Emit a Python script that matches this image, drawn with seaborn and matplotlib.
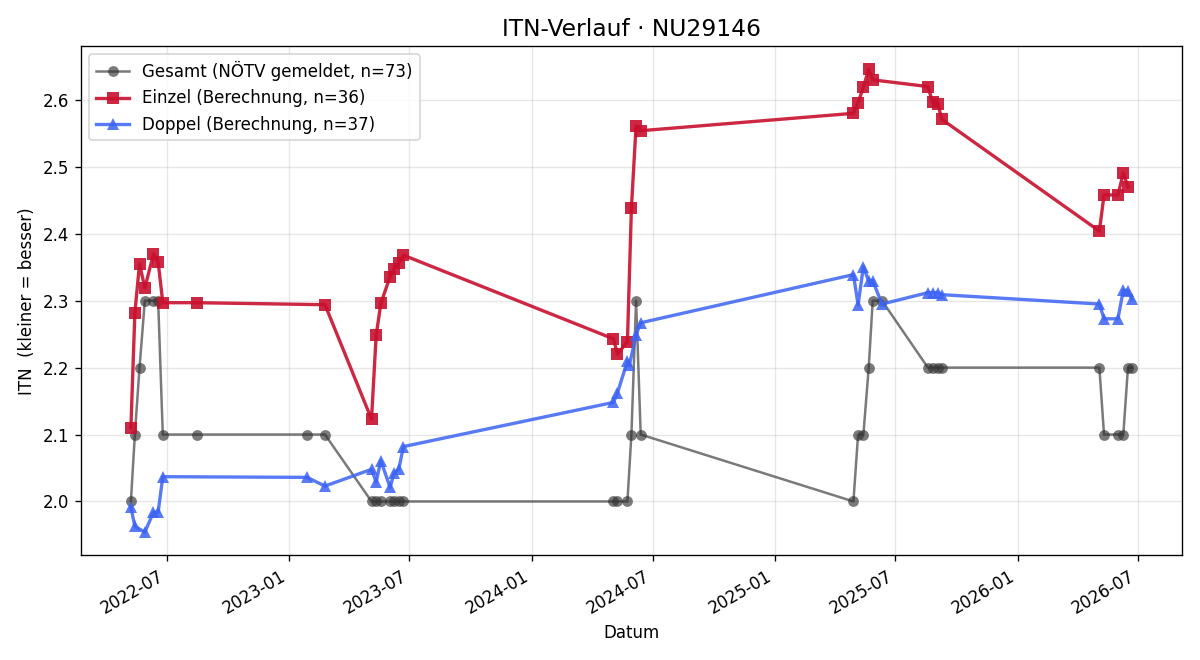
import numpy as np
import pandas as pd
import matplotlib
matplotlib.use('Agg')
import matplotlib.pyplot as plt
import matplotlib.dates as mdates
import seaborn as sns

# Gesamt (NÖTV gemeldet)
gesamt_datum = ['2022-05-08', '2022-05-14', '2022-05-21', '2022-05-29', '2022-06-11', '2022-06-18',
                '2022-06-25', '2022-08-15', '2023-01-28', '2023-02-24', '2023-05-05', '2023-05-12',
                '2023-05-19', '2023-06-02', '2023-06-08', '2023-06-15', '2023-06-22', '2024-05-03',
                '2024-05-09', '2024-05-24', '2024-05-30', '2024-06-06', '2024-06-13', '2025-04-29',
                '2025-05-06', '2025-05-14', '2025-05-22', '2025-05-28', '2025-06-11', '2025-08-19',
                '2025-08-26', '2025-09-03', '2025-09-09', '2026-05-04', '2026-05-11', '2026-06-01',
                '2026-06-09', '2026-06-16', '2026-06-22']
gesamt_itn = [2.0, 2.1, 2.2, 2.3, 2.3, 2.3,
              2.1, 2.1, 2.1, 2.1, 2.0, 2.0,
              2.0, 2.0, 2.0, 2.0, 2.0, 2.0,
              2.0, 2.0, 2.1, 2.3, 2.1, 2.0,
              2.1, 2.1, 2.2, 2.3, 2.3, 2.2,
              2.2, 2.2, 2.2, 2.2, 2.1, 2.1,
              2.1, 2.2, 2.2]

# Einzel (Berechnung)
einzel_datum = ['2022-05-08', '2022-05-14', '2022-05-21', '2022-05-29', '2022-06-11', '2022-06-18',
                '2022-06-25', '2022-08-15', '2023-02-24', '2023-05-05', '2023-05-12', '2023-05-19',
                '2023-06-02', '2023-06-08', '2023-06-15', '2023-06-22', '2024-05-03', '2024-05-09',
                '2024-05-24', '2024-05-30', '2024-06-06', '2024-06-13', '2025-04-29', '2025-05-06',
                '2025-05-14', '2025-05-22', '2025-05-28', '2025-08-19', '2025-08-26', '2025-09-03',
                '2025-09-09', '2026-05-04', '2026-05-11', '2026-06-01', '2026-06-09', '2026-06-16']
einzel_itn = [2.110, 2.282, 2.355, 2.319, 2.370, 2.358,
              2.297, 2.297, 2.294, 2.123, 2.248, 2.296,
              2.336, 2.348, 2.356, 2.368, 2.243, 2.220,
              2.239, 2.439, 2.561, 2.554, 2.580, 2.596,
              2.619, 2.646, 2.630, 2.620, 2.597, 2.594,
              2.571, 2.404, 2.458, 2.458, 2.491, 2.470]

# Doppel (Berechnung)
doppel_datum = ['2022-05-08', '2022-05-14', '2022-05-29', '2022-06-11', '2022-06-18', '2022-06-25',
                '2023-01-28', '2023-02-24', '2023-05-05', '2023-05-12', '2023-05-19', '2023-06-02',
                '2023-06-08', '2023-06-15', '2023-06-22', '2024-05-03', '2024-05-09', '2024-05-24',
                '2024-05-27', '2024-06-06', '2024-06-13', '2025-04-29', '2025-05-06', '2025-05-14',
                '2025-05-22', '2025-05-28', '2025-06-11', '2025-08-19', '2025-08-26', '2025-09-03',
                '2025-09-09', '2026-05-04', '2026-05-11', '2026-06-01', '2026-06-09', '2026-06-16',
                '2026-06-22']
doppel_itn = [1.991, 1.963, 1.954, 1.984, 1.984, 2.037,
              2.036, 2.023, 2.048, 2.029, 2.061, 2.021,
              2.043, 2.048, 2.082, 2.148, 2.162, 2.210,
              2.204, 2.249, 2.267, 2.339, 2.294, 2.351,
              2.329, 2.330, 2.295, 2.312, 2.312, 2.312,
              2.309, 2.295, 2.273, 2.273, 2.316, 2.315,
              2.302]

titel = 'ITN-Verlauf · NU29146'
label_gesamt = 'Gesamt (NÖTV gemeldet, n=73)'
label_einzel = 'Einzel (Berechnung, n=36)'
label_doppel = 'Doppel (Berechnung, n=37)'

df_g = pd.DataFrame({'Datum': pd.to_datetime(gesamt_datum), 'ITN': gesamt_itn})
df_e = pd.DataFrame({'Datum': pd.to_datetime(einzel_datum), 'ITN': einzel_itn})
df_d = pd.DataFrame({'Datum': pd.to_datetime(doppel_datum), 'ITN': doppel_itn})

fig, ax = plt.subplots(figsize=(10, 5.5), dpi=120)

sns.lineplot(data=df_g, x='Datum', y='ITN', ax=ax, estimator=None, sort=False,
             color='#333333', alpha=0.65, linewidth=1.5, marker='o', markersize=6.5,
             markeredgewidth=0, label=label_gesamt)
sns.lineplot(data=df_e, x='Datum', y='ITN', ax=ax, estimator=None, sort=False,
             color='#c8102e', alpha=0.9, linewidth=2, marker='s', markersize=7,
             markeredgewidth=0, label=label_einzel)
sns.lineplot(data=df_d, x='Datum', y='ITN', ax=ax, estimator=None, sort=False,
             color='#3b63f3', alpha=0.85, linewidth=2, marker='^', markersize=7.5,
             markeredgewidth=0, label=label_doppel)

ax.set_title(titel, fontsize=14)
ax.set_xlabel('Datum')
ax.set_ylabel('ITN  (kleiner = besser)')
ax.grid(True, alpha=0.3)
ax.xaxis.set_major_locator(mdates.MonthLocator(bymonth=[1, 7]))
ax.xaxis.set_major_formatter(mdates.DateFormatter('%Y-%m'))
ax.legend(loc='upper left')
fig.autofmt_xdate()

plt.tight_layout()
plt.savefig('out.png')
